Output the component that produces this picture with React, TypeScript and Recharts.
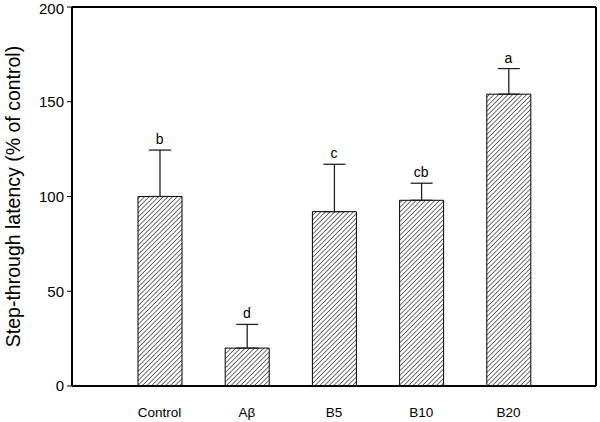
import React from "react";
import {
  ComposedChart,
  Bar,
  Line,
  XAxis,
  YAxis,
  ErrorBar,
  LabelList,
  ReferenceLine,
} from "recharts";

const groups = ["Control", "Aβ", "B5", "B10", "B20"];
const means = [100, 20, 92, 98, 154];
const sems = [24.5, 12.5, 25, 9, 13.5];
const letters = ["b", "d", "c", "cb", "a"];
const yTicks = [0, 50, 100, 150, 200];

const rows = groups.map((g, i) => ({
  group: g,
  mean: means[i],
  err: [0, sems[i]],
  top: means[i] + sems[i],
  sig: letters[i],
}));

const FONT = "'Liberation Sans', Arial, Helvetica, sans-serif";

// rotated y title, centred on the plot height
const YTitle = (props: any) => {
  const vb = props.viewBox || {};
  const cx = 12.5;
  const cy = vb.y + vb.height / 2;
  return (
    <text
      x={cx}
      y={cy}
      transform={`rotate(-90, ${cx}, ${cy})`}
      textAnchor="middle"
      dominantBaseline="central"
      fontSize={19.5}
      fill="#000"
      fontFamily={FONT}
    >
      Step-through latency (% of control)
    </text>
  );
};

export default function App() {
  return (
    <div style={{ position: "absolute", left: 0, top: 0, fontFamily: FONT }}>
      <ComposedChart
        width={600}
        height={422}
        data={rows}
        margin={{ top: 7, right: 2, bottom: 0, left: 0 }}
      >
        <defs>
          <pattern
            id="hatch"
            patternUnits="userSpaceOnUse"
            width={3.3}
            height={3.3}
            patternTransform="rotate(45)"
          >
            <rect width={3.3} height={3.3} fill="#fff" />
            <line x1={0} y1={0} x2={0} y2={3.3} stroke="#000" strokeWidth={1.1} />
          </pattern>
        </defs>
        <XAxis
          dataKey="group"
          height={36}
          padding={{ left: 44, right: 44 }}
          tickLine={false}
          tickSize={0}
          tickMargin={21}
          axisLine={{ stroke: "#000", strokeWidth: 2 }}
          tick={{ fill: "#000", fontSize: 13.5, fontFamily: FONT }}
        />
        <YAxis
          domain={[0, 200]}
          ticks={yTicks}
          width={72}
          tickSize={5}
          tickMargin={3}
          axisLine={{ stroke: "#000", strokeWidth: 2 }}
          tickLine={{ stroke: "#000", strokeWidth: 1 }}
          tick={{ fill: "#000", fontSize: 15, fontFamily: FONT }}
          label={<YTitle />}
        />
        <YAxis
          yAxisId="right"
          orientation="right"
          domain={[0, 200]}
          width={2}
          tick={false}
          tickLine={false}
          axisLine={{ stroke: "#000", strokeWidth: 2 }}
        />
        <ReferenceLine y={200} stroke="#000" strokeWidth={2} />
        <Bar
          dataKey="mean"
          barSize={44}
          fill="url(#hatch)"
          stroke="#000"
          strokeWidth={1}
          isAnimationActive={false}
        >
          <ErrorBar dataKey="err" width={11} stroke="#222" strokeWidth={1.3} direction="y" />
        </Bar>
        <Line
          dataKey="top"
          stroke="none"
          dot={false}
          activeDot={false}
          legendType="none"
          isAnimationActive={false}
        >
          <LabelList
            dataKey="sig"
            position="top"
            offset={6}
            style={{ fontSize: 14, fill: "#000", fontFamily: FONT }}
          />
        </Line>
      </ComposedChart>
    </div>
  );
}
